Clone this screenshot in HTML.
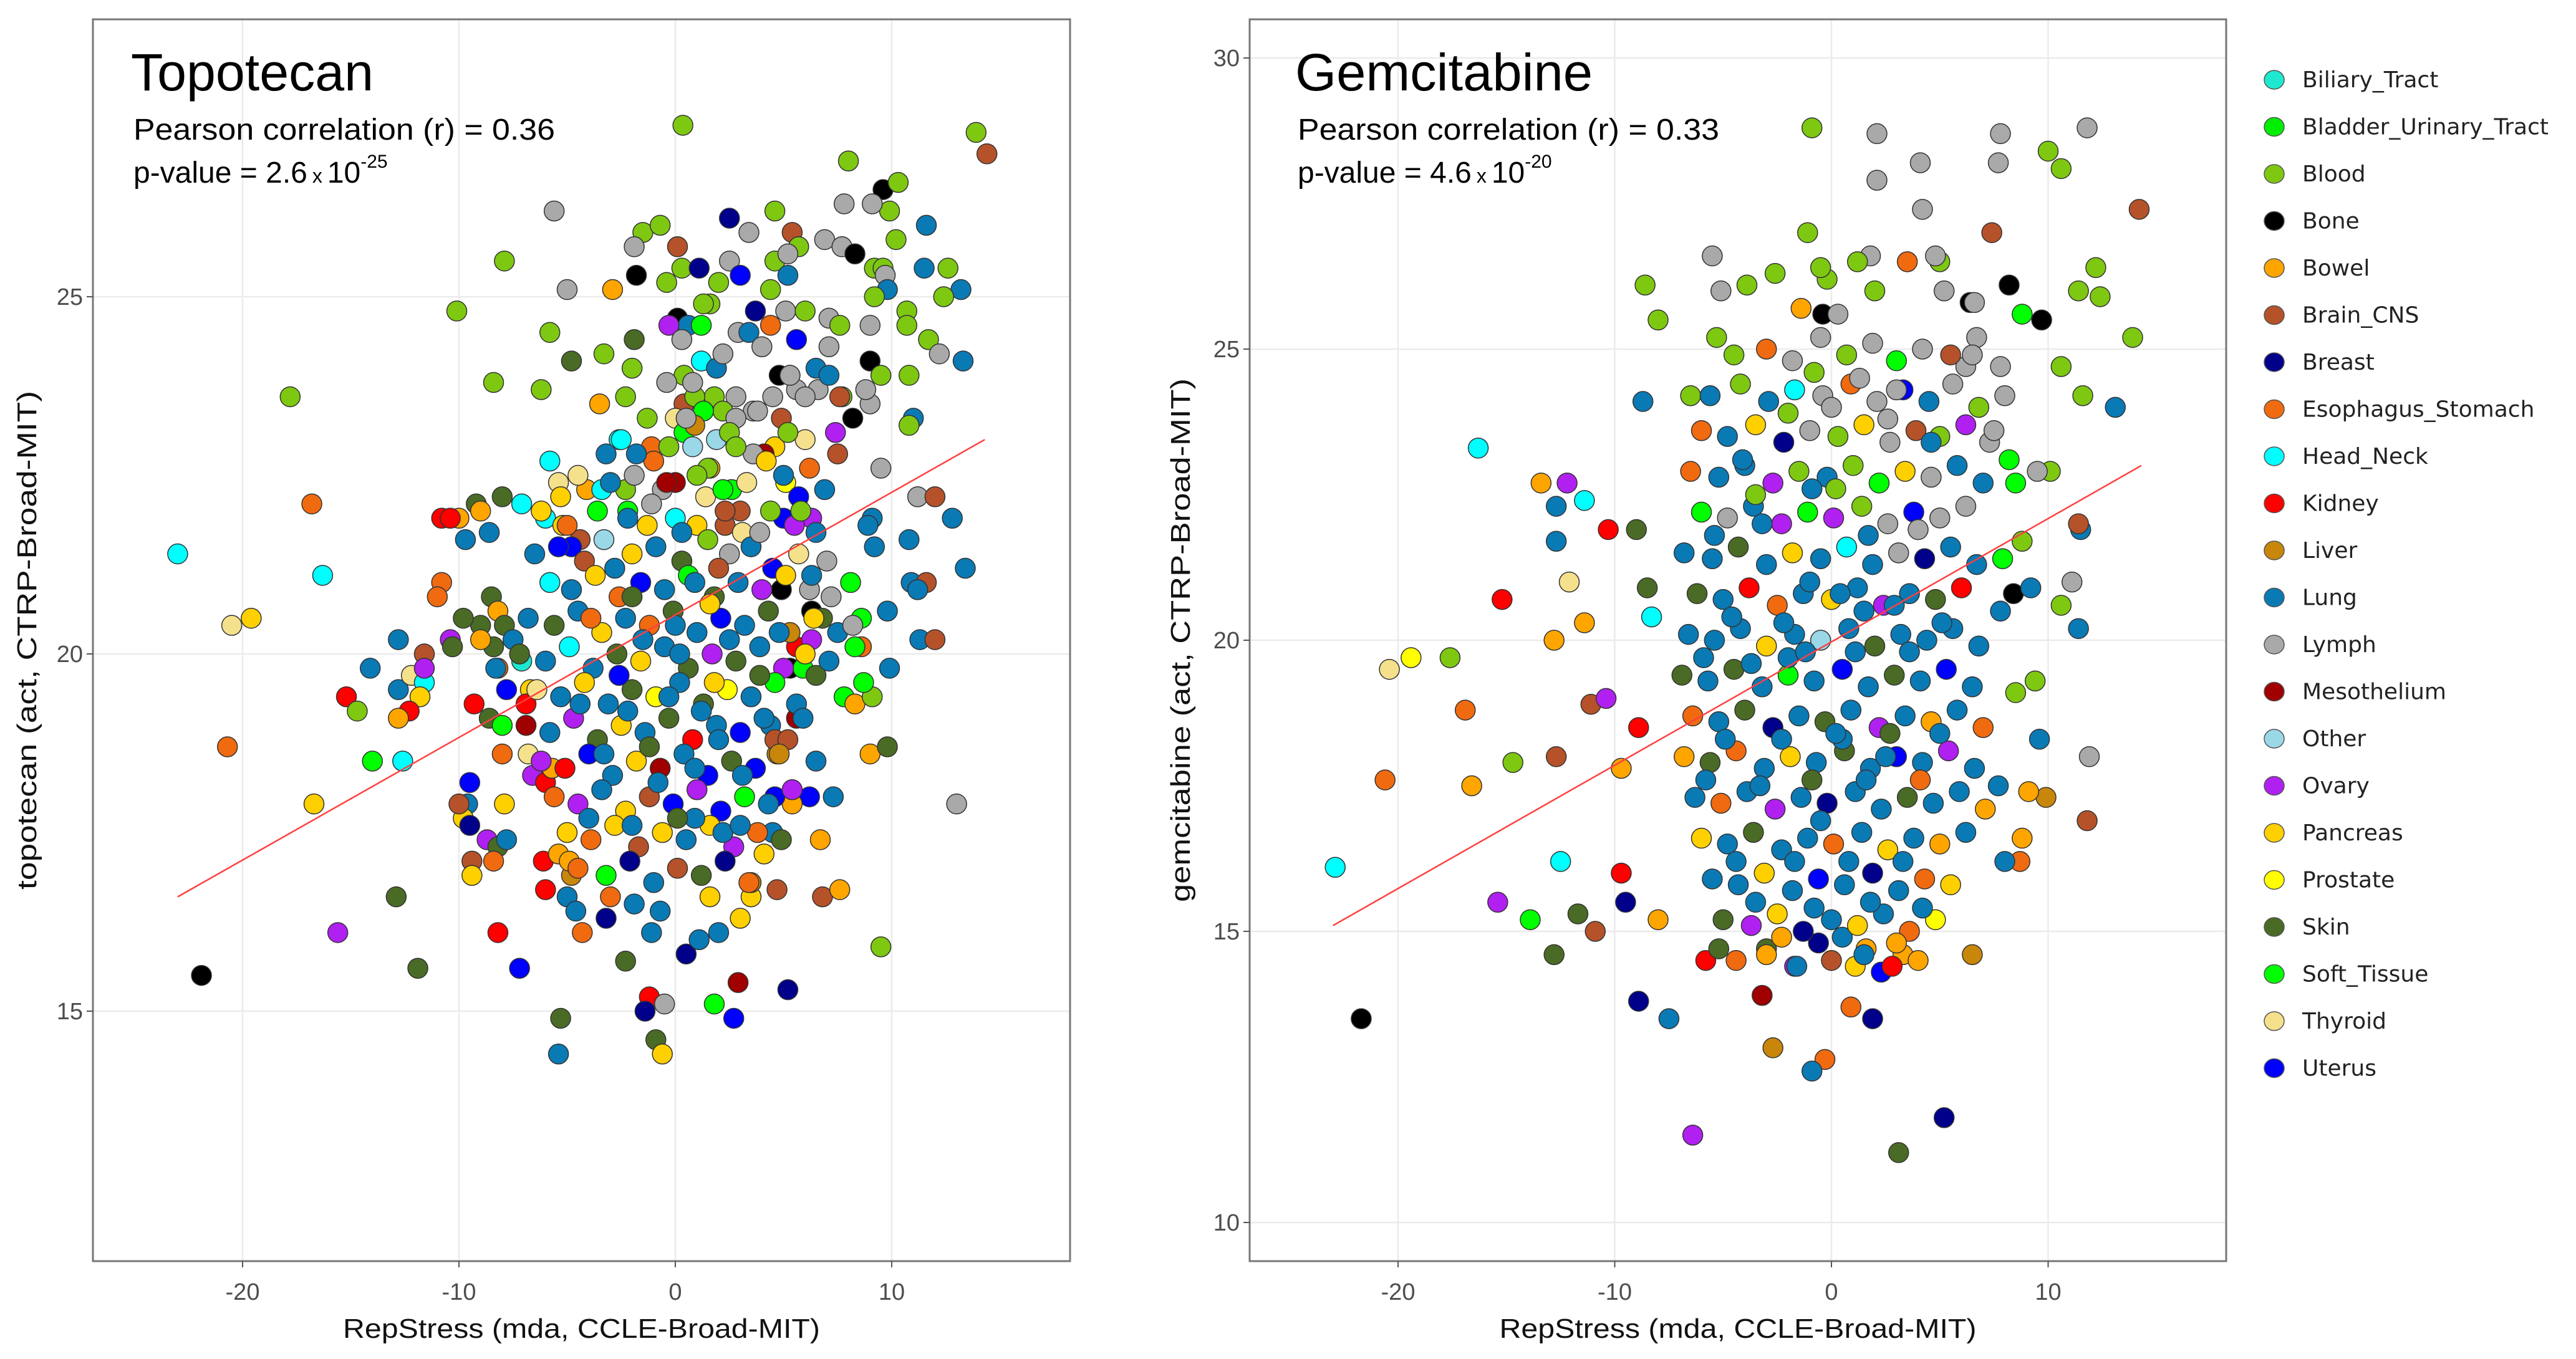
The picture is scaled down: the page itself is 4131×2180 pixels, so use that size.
<!DOCTYPE html>
<html><head><meta charset="utf-8"><style>
html,body{margin:0;padding:0;background:#fff;}
svg{display:block;}
text{font-family:"Liberation Sans",sans-serif;}
</style></head><body>
<svg id="chart" width="4131" height="2180" viewBox="0 0 4131 2180" xmlns="http://www.w3.org/2000/svg">
<rect width="4131" height="2180" fill="#fff"/>
<g id="left"></g>
<g id="right"></g>
<g id="legend"></g>
</svg>
<script>
const categories=["Biliary_Tract","Bladder_Urinary_Tract","Blood","Bone","Bowel","Brain_CNS","Breast","Esophagus_Stomach","Head_Neck","Kidney","Liver","Lung","Lymph","Mesothelium","Other","Ovary","Pancreas","Prostate","Skin","Soft_Tissue","Thyroid","Uterus"];
const catColors=["#1de9d0","#00ee00","#7ec812","#000000","#ffa500","#b5522a","#00008b","#f06a10","#00ffff","#ff0000","#c8860a","#0a7ab5","#a9a9a9","#a00000","#9ad8e8","#b020f0","#ffd000","#ffff00","#4a6b25","#00ff00","#f5e08c","#0000ff"];
const leftXTicks=[-20,-10,0,10];
const leftYTicks=[15,20,25];
const rightXTicks=[-20,-10,0,10];
const rightYTicks=[10,15,20,25,30];
const leftFitX=[-23,14.3];
const leftFitY=[16.6,23.0];
const rightFitX=[-23,14.3];
const rightFitY=[15.1,23.0];
const leftPoints=[
[-23,21.4,8],[-20.5,20.4,20],[-19.6,20.5,16],[-17.8,23.6,2],[-16.8,22.1,7],[-16.3,21.1,8],[-20.7,18.7,7],[-16.7,17.9,16],[-21.9,15.5,3],[-15.6,16.1,15],
[-15.2,19.4,9],[-14.7,19.2,2],[-14.0,18.5,19],[-12.6,18.5,8],[-12.8,19.5,11],[-12.2,19.7,20],[-11.6,19.6,8],[-11.8,19.4,16],[-12.3,19.2,9],[-12.8,19.1,4],
[-12.9,16.6,18],[-11.9,15.6,18],[-11.6,20.0,5],[-10.8,21.0,7],[-10.8,21.9,9],[-10.0,21.9,4],[-9.7,21.6,11],[-9.2,22.1,18],[-12.8,20.2,11],[-10.4,20.2,15],
[-8.5,20.8,18],[-9.0,20.4,18],[-8.2,20.6,4],[-7.9,20.4,18],[-9.3,19.3,9],[-7.8,19.5,21],[-8.6,19.1,18],[-8.0,19.0,19],[-8.2,19.8,7],[-7.5,20.2,11],
[-7.1,19.9,0],[-6.7,19.5,16],[-6.9,19.3,9],[-8.0,18.6,7],[-6.8,18.6,20],[-6.6,18.3,15],[-6.0,18.2,9],[-5.7,18.4,4],[-9.5,18.2,21],[-9.6,17.9,11],
[-9.8,17.7,16],[-7.9,17.9,16],[-10.0,17.9,5],[-9.5,17.6,6],[-8.7,17.4,15],[-8.2,17.3,18],[-7.8,17.4,11],[-9.4,17.1,5],[-9.4,16.9,16],[-8.4,17.1,7],
[-6.1,17.1,9],[-6.0,16.7,9],[-5.4,17.2,4],[-4.8,16.9,10],[-4.9,17.1,4],[-5.0,16.6,11],[-4.3,16.1,7],[-4.6,16.4,11],[-8.2,16.1,9],[-7.2,15.6,21],
[-5.3,14.9,18],[-5.4,14.4,11],[-2.3,15.7,18],[-3.2,16.3,6],[-1.9,16.5,11],[-1.1,16.1,11],[0.5,15.8,6],[1.1,16.0,11],[2.0,16.1,11],[-1.2,15.2,9],
[-1.4,15.0,6],[-0.5,15.1,12],[-0.9,14.6,18],[-0.6,14.4,16],[1.8,15.1,19],[2.7,14.9,21],[2.9,15.4,13],[5.2,15.3,6],[3.0,16.3,16],[3.5,16.6,16],
[3.5,16.8,10],[4.7,16.7,5],[6.8,16.6,5],[7.6,16.7,4],[6.7,17.4,4],[9.5,15.9,2],[13.0,17.9,12],[9.0,18.6,4],[9.8,18.7,18],[7.8,19.4,19],
[8.3,19.3,4],[9.1,19.4,2],[6.5,18.5,11],[7.3,18.0,11],[6.2,18.0,21],[5.6,19.1,13],[4.4,19.0,11],[4.5,17.5,11],[5.4,17.9,4],[4.6,18.0,21],
[4.7,18.6,10],[4.6,18.8,5],[9.8,20.6,11],[8.6,20.5,19],[7.5,20.3,11],[8.2,20.4,12],[8.6,20.1,7],[8.1,21.0,19],[10.9,21.0,11],[11.6,21.0,5],
[10.8,21.6,11],[12.8,21.9,11],[9.1,21.9,11],[5.6,20.1,9],[6.3,20.2,15],[5.3,19.8,3],[5.9,19.8,19],[6.5,19.7,18],[7.1,19.9,11],[4.9,20.9,3],
[6.3,20.6,3],[6.8,20.5,18],
[0.35,27.4,2],[13.9,27.3,2],[14.4,27.0,5],[8.0,26.9,2],[9.6,26.5,3],[10.3,26.6,2],[9.9,26.2,2],[9.1,26.3,12],[7.8,26.3,12],[-5.6,26.2,12],
[2.5,26.1,6],[4.6,26.2,2],[3.4,25.9,12],[5.4,25.9,5],[11.6,26.0,11],[6.9,25.8,12],[-1.5,25.9,2],[-0.7,26.0,2],[-1.9,25.7,12],[0.1,25.7,5],
[7.7,25.7,12],[8.3,25.6,3],[10.2,25.8,2],[9.2,25.4,2],[9.6,25.4,2],[-7.9,25.5,2],[0.3,25.4,2],[1.1,25.4,6],[2.5,25.5,12],[4.6,25.5,2],
[5.7,25.7,2],[3.0,25.3,21],[-1.8,25.3,3],[-0.4,25.2,2],[5.2,25.3,11],[9.7,25.3,12],[11.5,25.4,11],[12.6,25.4,2],[13.2,25.1,11],[12.4,25.0,2],
[9.8,25.1,11],[9.2,25.0,2],[-5.0,25.1,12],[-2.9,25.1,4],[1.6,24.9,2],[2.0,25.2,2],[4.4,25.1,2],[3.7,24.8,6],[5.1,24.8,12],[4.4,24.6,7],
[5.6,24.4,21],[7.1,24.7,12],[7.6,24.6,2],[9.0,24.6,12],[10.7,24.8,2],[10.7,24.6,2],[11.7,24.4,2],[12.2,24.2,12],[13.3,24.1,11],[-10.1,24.8,2],
[-5.8,24.5,2],[0.1,24.7,3],[0.6,24.6,11],[1.2,24.6,19],[-0.3,24.6,15],[0.3,24.4,12],[2.9,24.5,12],[-1.9,24.4,18],[1.2,24.1,8],[1.9,24.0,11],
[3.4,24.5,11],[7.1,24.3,12],[9.0,24.1,3],[9.5,23.9,2],[10.8,23.9,2],[-4.8,24.1,18],[0.4,23.9,2],[0.4,23.5,5],[4.8,23.9,3],[5.3,23.9,2],
[5.6,23.7,12],[6.6,23.7,12],[6.5,24.0,11],[7.1,23.9,11],[7.7,23.6,2],[9.0,23.5,12],[1.8,23.6,2],[2.8,23.6,12],[2.2,23.4,2],[-8.4,23.8,2],
[-6.2,23.7,2],[-3.5,23.5,4],[-2.3,23.6,2],[-0.4,23.8,12],[0.9,23.6,2],[1.3,23.4,19],[4.5,23.6,12],[3.6,23.4,12],[2.8,23.3,12],[5.3,23.9,12],
[6.0,23.6,12],[7.6,23.6,5],[8.8,23.7,12],[8.2,23.3,3],[7.4,23.1,15],[7.5,22.8,5],[11.0,23.3,11],[10.8,23.2,2],[0.0,23.3,20],[0.4,23.1,19],
[0.9,23.2,10],[-2.6,23.0,8],[-3.2,22.8,11],[1.9,23.0,14],[4.9,23.3,5],[4.6,22.9,16],[4.1,22.8,13],[6.0,23.0,20],[5.2,23.1,2],[9.5,22.6,12],
[-1.1,22.9,7],[-5.4,22.4,20],[-5.3,22.2,16],[-4.1,22.3,4],[-3.4,22.3,8],[-7.1,22.1,8],[-6.0,21.9,8],[-5.2,21.8,16],[-4.4,21.6,5],[-4.8,21.5,21],
[-2.3,22.3,2],[-2.2,22.0,19],[0.0,22.4,13],[-0.6,22.3,12],[1.4,22.2,20],[2.6,22.3,19],[1.6,22.6,4],[3.0,22.0,5],[2.3,21.8,5],[5.1,22.4,17],
[5.7,22.2,21],[6.3,21.9,15],[5.0,21.9,21],[6.9,22.3,11],[6.2,22.6,7],[11.2,22.2,12],[12.0,22.2,5],[8.9,21.8,11],[13.4,21.2,11],[11.2,20.9,11],
[11.3,20.2,11],[12.0,20.2,5],[9.9,19.8,11],[8.7,19.6,19],[8.3,20.1,19],[9.2,21.5,11],[-10.4,21.9,9],[-9.0,22.0,4],[-8.0,22.2,18],[-8.6,21.7,11],
[-11.0,20.8,7],[-14.1,19.8,11],[-11.6,19.8,15],[-10.3,20.1,18],[-9.8,20.5,18],[-8.3,19.8,11],[-8.4,20.1,18],[-9.0,20.2,4],
[-2.5,23.0,8],[0.8,22.9,14],[2.5,23.1,2],[3.6,22.8,12],[-1.0,22.7,7],[1.5,22.6,2],[4.2,22.7,16],
[-4.5,22.5,20],[-3.0,22.4,11],[-1.9,22.5,12],[-0.4,22.4,13],[1.0,22.5,2],[2.2,22.3,19],[3.3,22.4,20],[5.0,22.5,11],[-5.8,22.7,8],
[-6.2,22.0,16],[-5.0,21.8,7],[-3.6,22.0,19],[-2.2,21.9,11],[-1.1,22.1,12],[0.0,21.9,8],[1.0,21.8,16],[2.3,22.0,5],[3.1,21.7,20],[4.4,22.0,2],[5.5,21.8,15],[6.5,21.7,11],
[-6.5,21.4,11],[-5.4,21.5,21],[-4.2,21.3,5],[-3.3,21.6,14],[-2.0,21.4,16],[-0.9,21.5,11],[0.3,21.3,18],[1.5,21.6,2],[2.5,21.4,12],[3.5,21.5,11],[4.5,21.2,21],[5.7,21.4,20],[7.0,21.3,12],
[-5.8,21.0,8],[-4.8,20.9,11],[-3.7,21.1,16],[-2.6,20.8,7],[-1.6,21.0,21],[-0.5,20.9,11],[0.6,21.1,19],[1.8,20.8,18],[2.9,21.0,11],[4.0,20.9,15],[5.1,21.1,16],[6.2,20.9,12],[7.2,20.8,12],
[-6.8,20.5,11],[-5.6,20.4,18],[-4.5,20.6,11],[-3.4,20.3,16],[-2.3,20.5,11],[-1.2,20.4,7],[-0.1,20.6,18],[1.0,20.3,11],[2.1,20.5,21],[3.2,20.4,11],[4.3,20.6,18],[5.3,20.3,10],[6.4,20.5,16],
[-7.2,20.0,18],[-6.0,19.9,11],[-4.9,20.1,8],[-3.8,19.8,11],[-2.7,20.0,18],[-1.6,19.9,16],[-0.5,20.1,11],[0.6,19.8,18],[1.7,20.0,15],[2.8,19.9,18],[3.9,20.1,11],[5.0,19.8,15],[6.0,20.0,16],
[-6.4,19.5,20],[-5.3,19.4,11],[-4.2,19.6,16],[-3.1,19.3,11],[-2.0,19.5,18],[-0.9,19.4,17],[0.2,19.6,11],[1.3,19.3,18],[2.4,19.5,17],[3.5,19.4,11],[4.6,19.6,19],[5.6,19.3,11],
[-6.9,19.0,13],[-5.8,18.9,11],[-4.7,19.1,15],[-3.6,18.8,18],[-2.5,19.0,16],[-1.4,18.9,11],[-0.3,19.1,18],[0.8,18.8,9],[1.9,19.0,11],[3.0,18.9,21],[4.1,19.1,11],[5.2,18.8,5],
[-6.2,18.5,15],[-5.1,18.4,9],[-4.0,18.6,21],[-2.9,18.3,11],[-1.8,18.5,16],[-0.7,18.4,13],[0.4,18.6,11],[1.5,18.3,21],[2.6,18.5,18],[3.7,18.4,21],[4.8,18.6,10],
[-5.6,18.0,7],[-4.5,17.9,15],[-3.4,18.1,11],[-2.3,17.8,16],[-1.2,18.0,5],[-0.1,17.9,21],[1.0,18.1,15],[2.1,17.8,21],[3.2,18.0,19],[4.3,17.9,11],[5.4,18.1,15],
[-5.0,17.5,16],[-3.9,17.4,7],[-2.8,17.6,16],[-1.7,17.3,5],[-0.6,17.5,16],[0.5,17.4,11],[1.6,17.6,16],[2.7,17.3,15],[3.8,17.5,7],[4.9,17.4,18],
[-4.5,17.0,7],[-3.2,16.9,19],[-2.1,17.1,6],[-1.0,16.8,11],[0.1,17.0,5],[1.2,16.9,18],[2.3,17.1,6],[3.4,16.8,7],
[-1.5,20.2,11],[0.0,20.4,11],[1.2,19.2,11],[-0.8,18.2,11],[0.9,17.7,11],[2.0,18.8,11],[-2.2,19.2,11],[0.3,21.7,11],[1.6,20.7,16],[-0.3,22.9,2],[2.8,22.9,2],[5.8,22.0,2],[3.8,23.4,12],[-1.3,23.3,2],[0.8,23.8,12],[-2.0,24.0,2],[6.0,24.8,2],[4.0,24.3,12],[2.2,24.2,12],[-3.3,24.2,2],[1.3,24.9,2],[5.2,25.6,12],
[-2.8,21.2,11],[-1.3,21.8,16],[0.9,21.0,11],[2.0,21.2,5],[3.9,21.7,12],[-3.9,20.5,7],[-2.0,20.8,18],[0.2,20.0,11],[2.5,20.2,11],[4.8,20.3,11],[-4.4,19.3,11],[-2.6,19.7,21],[-0.3,19.4,11],[1.8,19.6,16],[3.9,19.7,18],[-3.3,18.6,11],[-1.2,18.7,18],[0.9,18.4,11],[3.1,18.3,11],[-4.0,17.7,11],[-2.0,17.6,11],[0.1,17.7,18],[2.2,17.5,11],[4.1,17.2,16],[-3.0,16.6,7],[-0.7,16.4,11],[1.6,16.6,16],[3.0,17.6,11],[-1.8,22.8,11],[0.5,23.3,12],[6.3,21.1,11],[5.9,19.1,11]
];
const rightPoints=[
[-22.9,16.1,8],[-21.7,13.5,3],[-16.3,23.3,8],[-20.4,19.5,20],[-19.4,19.7,17],[-20.6,17.6,7],[-17.6,19.7,2],[-16.9,18.8,7],[-16.6,17.5,4],[-15.4,15.5,15],
[-14.7,17.9,2],[-13.9,15.2,19],[-15.2,20.7,9],[-13.4,22.7,4],[-12.2,22.7,15],[-11.4,22.4,8],[-12.7,22.3,11],[-12.7,21.7,11],[-12.1,21.0,20],[-11.4,20.3,4],
[-12.8,20.0,4],[-12.7,18.0,5],[-12.5,16.2,8],[-12.8,14.6,18],[-11.7,15.3,18],[-10.9,15.0,5],[-10.3,21.9,9],[-9.0,21.9,18],[-8.7,24.1,11],[-11.1,18.9,5],
[-10.4,19.0,15],[-9.7,17.8,4],[-8.9,18.5,9],[-9.7,16.0,9],[-9.5,15.5,6],[-8.9,13.8,6],[-8.5,20.9,18],[-8.3,20.4,8],[-8.0,15.2,4],[-7.5,13.5,11],
[-6.4,11.5,15],[-8.6,26.1,2],[-8.0,25.5,2],[-6.5,24.2,2],[-5.5,26.6,12],[-5.1,26.0,12],[-5.3,25.2,2],[-3.9,26.1,2],[-2.6,26.3,2],[-1.4,25.7,4],
[-1.1,27.0,2],[-0.9,28.8,2],[2.1,28.7,12],[2.1,27.9,12],[4.1,28.2,12],[4.2,27.4,12],[7.8,28.7,12],[7.7,28.2,12],[7.4,27.0,5],[10.0,28.4,2],
[10.6,28.1,2],[11.8,28.8,12],[14.2,27.4,5],[12.2,26.4,2],[11.4,26.0,2],[12.4,25.9,2],[13.9,25.2,2],[13.1,24.0,11],[11.6,24.2,2],[9.7,25.5,3],
[8.8,25.6,19],[8.2,26.1,3],[6.4,25.8,3],[-0.2,26.2,2],[-0.4,25.6,3],[0.3,25.6,12],[1.8,26.6,12],[1.2,26.5,2],[3.5,26.5,7],[5.0,26.5,2],
[5.2,26.0,12],[6.6,25.8,12],[10.6,24.7,2],[10.1,22.9,2],[11.5,21.9,11],[11.1,21.0,12],[11.4,20.2,11],[10.6,20.6,2],[11.4,22.0,5],[11.9,18.0,12],
[11.8,16.9,5],[9.4,19.3,2],[9.9,17.3,10],[8.8,16.6,4],[8.7,16.2,7],[6.5,14.6,10],[8.4,20.8,3],[7.9,21.4,19],[8.2,23.1,19],[6.2,24.7,12],
[3.1,11.2,18],[5.2,11.8,6],[1.9,13.5,6],[0.9,13.7,7],[-0.3,12.8,7],[-0.9,12.6,11],[-3.2,13.9,13],[-2.7,13.0,10],[3.3,14.6,4],[-5.8,14.5,9],
[-5.2,14.7,18],[-3.0,14.7,18],[-1.7,14.4,15],[-0.6,14.8,6],[1.6,14.7,4],[2.3,14.3,21],[1.1,14.4,16],[0.5,14.9,11],
[-4.5,24.9,2],[-3.0,25.0,7],[-1.8,24.8,12],[-0.5,25.2,12],[0.7,24.9,2],[1.9,25.1,12],[3.0,24.8,19],[4.2,25.0,12],[5.5,24.9,5],[6.7,25.2,12],[7.8,24.7,12],
[-5.6,24.2,11],[-4.2,24.4,2],[-2.9,24.1,11],[-1.7,24.3,8],[-0.4,24.2,12],[0.9,24.4,7],[2.1,24.1,12],[3.3,24.3,21],[4.5,24.1,11],[5.6,24.4,12],[6.8,24.0,2],[8.0,24.2,12],
[-6.0,23.6,7],[-4.8,23.5,11],[-3.5,23.7,16],[-2.2,23.4,6],[-1.0,23.6,12],[0.3,23.5,2],[1.5,23.7,16],[2.7,23.4,12],[3.9,23.6,5],[5.0,23.5,2],[6.2,23.7,15],[7.3,23.4,12],
[-6.5,22.9,7],[-5.2,22.8,11],[-4.0,23.0,11],[-2.7,22.7,15],[-1.5,22.9,2],[-0.2,22.8,11],[1.0,23.0,2],[2.2,22.7,19],[3.4,22.9,16],[4.6,22.8,12],[5.8,23.0,11],[7.0,22.7,11],
[-6.0,22.2,19],[-4.8,22.1,12],[-3.6,22.3,11],[-2.3,22.0,15],[-1.1,22.2,19],[0.1,22.1,15],[1.4,22.3,2],[2.6,22.0,12],[3.8,22.2,21],[5.0,22.1,12],[6.2,22.3,12],
[-6.8,21.5,11],[-5.5,21.4,11],[-4.3,21.6,18],[-3.0,21.3,11],[-1.8,21.5,16],[-0.5,21.4,11],[0.7,21.6,8],[1.9,21.3,11],[3.1,21.5,12],[4.3,21.4,6],[5.5,21.6,11],[6.7,21.3,11],
[-6.2,20.8,18],[-5.0,20.7,11],[-3.8,20.9,9],[-2.5,20.6,7],[-1.3,20.8,11],[0.0,20.7,16],[1.2,20.9,11],[2.4,20.6,15],[3.6,20.8,11],[4.8,20.7,18],[6.0,20.9,9],
[-6.6,20.1,11],[-5.4,20.0,11],[-4.2,20.2,11],[-3.0,19.9,16],[-1.7,20.1,11],[-0.5,20.0,14],[0.8,20.2,11],[2.0,19.9,18],[3.2,20.1,11],[4.4,20.0,11],[5.6,20.2,11],[6.8,19.9,11],
[-6.9,19.4,18],[-5.7,19.3,11],[-4.5,19.5,18],[-3.2,19.2,11],[-2.0,19.4,19],[-0.8,19.3,11],[0.5,19.5,21],[1.7,19.2,11],[2.9,19.4,18],[4.1,19.3,11],[5.3,19.5,21],[6.5,19.2,11],
[-6.4,18.7,7],[-5.2,18.6,11],[-4.0,18.8,18],[-2.7,18.5,6],[-1.5,18.7,11],[-0.3,18.6,18],[0.9,18.8,11],[2.2,18.5,15],[3.4,18.7,11],[4.6,18.6,4],[5.8,18.8,11],[7.0,18.5,7],
[-6.8,18.0,4],[-5.6,17.9,18],[-4.4,18.1,7],[-3.1,17.8,11],[-1.9,18.0,16],[-0.7,17.9,11],[0.6,18.1,18],[1.8,17.8,11],[3.0,18.0,21],[4.2,17.9,11],[5.4,18.1,15],[6.6,17.8,11],
[-6.3,17.3,11],[-5.1,17.2,7],[-3.9,17.4,11],[-2.6,17.1,15],[-1.4,17.3,11],[-0.2,17.2,6],[1.1,17.4,11],[2.3,17.1,11],[3.5,17.3,18],[4.7,17.2,11],[5.9,17.4,11],[7.1,17.1,4],
[-6.0,16.6,16],[-4.8,16.5,11],[-3.6,16.7,18],[-2.3,16.4,11],[-1.1,16.6,11],[0.1,16.5,7],[1.4,16.7,11],[2.6,16.4,16],[3.8,16.6,11],[5.0,16.5,4],[6.2,16.7,11],
[-5.5,15.9,11],[-4.3,15.8,11],[-3.1,16.0,16],[-1.8,15.7,11],[-0.6,15.9,21],[0.6,15.8,11],[1.9,16.0,6],[3.1,15.7,11],[4.3,15.9,7],[5.5,15.8,16],
[-5.0,15.2,18],[-3.7,15.1,15],[-2.5,15.3,16],[-1.3,15.0,6],[0.0,15.2,11],[1.2,15.1,16],[2.4,15.3,11],[3.6,15.0,7],[4.8,15.2,17],
[-4.4,14.5,7],[-3.0,14.6,4],[-1.6,14.4,11],[0.0,14.5,5],[1.5,14.6,11],[2.8,14.4,9],[4.0,14.5,4],
[-1,21,11],[0.5,18.3,11],[-0.5,16.9,11],[1.5,20.5,11],[-2,19.7,11],[2.5,18.0,11],[0.2,22.6,2],[-0.8,24.6,2],[1.3,24.5,12],[3.0,24.3,12],[-3.5,22.5,2],[2.0,26.0,2],[-0.5,26.4,2],[4.8,26.6,12],[6.5,24.9,12],[7.5,23.6,12],[8.5,22.7,19],[9.5,22.9,12],[8.8,21.7,2],[9.2,20.9,11],[7.8,20.5,11],[8.5,19.1,2],[9.6,18.3,11],[7.7,17.5,11],[9.1,17.4,4],[8.0,16.2,11],
[-4.1,23.1,11],[-2.0,23.9,2],[0.0,24.0,12],[2.6,23.8,12],[4.6,23.4,11],[-5.4,21.8,11],[-3.2,22.0,11],[-0.9,22.6,11],[1.7,21.8,11],[4.0,21.9,12],[-4.6,20.4,11],[-2.2,20.3,11],[0.4,20.8,11],[2.9,20.6,11],[5.1,20.3,11],[-5.9,19.7,11],[-3.7,19.6,11],[-1.2,19.8,11],[1.1,19.8,11],[3.6,19.8,11],[-4.9,18.3,11],[-2.3,18.3,11],[0.2,18.4,11],[2.7,18.4,18],[5.0,18.4,11],[-5.8,17.6,11],[-3.3,17.5,11],[-0.9,17.6,18],[1.6,17.6,11],[4.1,17.6,7],[-4.4,16.2,11],[-1.7,16.2,11],[0.8,16.2,11],[3.3,16.2,11],[-3.5,15.5,11],[-0.8,15.4,11],[1.8,15.5,11],[4.2,15.4,11],[-2.3,14.9,4],[3.0,14.8,4]
];
const NS="http://www.w3.org/2000/svg";
function mk(tag,attrs,parent){const e=document.createElementNS(NS,tag);for(const k in attrs)e.setAttribute(k,attrs[k]);parent.appendChild(e);return e;}

function panel(g,cfg){
  const sx=v=>cfg.x0v+cfg.kx*v, sy=v=>cfg.y0v-cfg.ky*(v-cfg.yref);
  cfg.xt.forEach(t=>{const l=mk('line',{x1:sx(t),x2:sx(t),y1:cfg.top,y2:cfg.bot,stroke:'#ebebeb','stroke-width':2.5},g);
    
    });
  cfg.yt.forEach(t=>{const l=mk('line',{x1:cfg.left,x2:cfg.right,y1:sy(t),y2:sy(t),stroke:'#ebebeb','stroke-width':2.5},g);
    
    });
  cfg.pts.forEach(p=>{const c=mk('circle',{cx:sx(p[0]),cy:sy(p[1]),r:16,fill:catColors[p[2]],stroke:'#333','stroke-width':1.5},g);
    
    });
  const fl=mk('line',{x1:sx(cfg.fx[0]),y1:sy(cfg.fy[0]),x2:sx(cfg.fx[1]),y2:sy(cfg.fy[1]),stroke:'#ff4040','stroke-width':2.5},g);
  
  
  const b=mk('rect',{x:cfg.left,y:cfg.top,width:cfg.right-cfg.left,height:cfg.bot-cfg.top,fill:'none',stroke:'#777','stroke-width':3},g);
  
  
  cfg.xt.forEach(t=>{mk('line',{x1:sx(t),x2:sx(t),y1:cfg.bot,y2:cfg.bot+10,stroke:'#555','stroke-width':2},g);
    const tx=mk('text',{x:sx(t),y:2085,'text-anchor':'middle','font-size':38,fill:'#4d4d4d'},g);tx.textContent=t;
    
    });
  cfg.yt.forEach(t=>{mk('line',{x1:cfg.left-10,x2:cfg.left,y1:sy(t),y2:sy(t),stroke:'#555','stroke-width':2},g);
    const tx=mk('text',{x:cfg.left-16,y:sy(t)+13,'text-anchor':'end','font-size':38,fill:'#4d4d4d'},g);tx.textContent=t;
    
    });
  const xa=mk('text',{x:(cfg.left+cfg.right)/2,y:2146,'text-anchor':'middle','font-size':44,fill:'#111',textLength:765,lengthAdjust:'spacingAndGlyphs'},g);
  xa.textContent='RepStress (mda, CCLE-Broad-MIT)';
  
  
  const ya=mk('text',{x:0,y:0,'text-anchor':'middle','font-size':44,fill:'#111',transform:`translate(${cfg.ytx},${(cfg.top+cfg.bot)/2}) rotate(-90)`,textLength:cfg.ytLen,lengthAdjust:'spacingAndGlyphs'},g);
  ya.textContent=cfg.ytitle;
  
  
  const ti=mk('text',{x:cfg.tx,y:145,'font-size':84,fill:'#000',textLength:cfg.tLen,lengthAdjust:'spacingAndGlyphs'},g);
  ti.textContent=cfg.title;
  
  
  const r=mk('text',{x:cfg.tx+4,y:224,'font-size':48,fill:'#000',textLength:676,lengthAdjust:'spacingAndGlyphs'},g);
  r.textContent=cfg.rtext;
  
  
  const pv=mk('text',{x:cfg.tx+4,y:293,'font-size':48,fill:'#000'},g);
  
  
  pv.innerHTML=`<tspan>p-value = ${cfg.pm}</tspan><tspan font-size="32" dx="8">x</tspan><tspan dx="8" font-size="48">10</tspan><tspan font-size="30" dy="-24">${cfg.pe}</tspan>`;
}
panel(document.getElementById('left'),{left:149,right:1716,top:31,bot:2023,x0v:1083,kx:34.7,y0v:1049,ky:114.6,yref:20,xt:leftXTicks,yt:leftYTicks,pts:leftPoints,fx:leftFitX,fy:leftFitY,ytx:58,ytLen:800,ytitle:'topotecan (act, CTRP-Broad-MIT)',tx:210,title:'Topotecan',tLen:389,rtext:'Pearson correlation (r) = 0.36',pm:'2.6',pe:'-25'});
panel(document.getElementById('right'),{left:2004,right:3570,top:31,bot:2023,x0v:2937,kx:34.75,y0v:1961,ky:93.4,yref:10,xt:rightXTicks,yt:rightYTicks,pts:rightPoints,fx:rightFitX,fy:rightFitY,ytx:1908,ytLen:840,ytitle:'gemcitabine (act, CTRP-Broad-MIT)',tx:2077,title:'Gemcitabine',tLen:477,rtext:'Pearson correlation (r) = 0.33',pm:'4.6',pe:'-20'});
const lg=document.getElementById('legend');
categories.forEach((c,i)=>{
  const y=128+i*75.5;
  const e=mk('g',{},lg);
  
  
  mk('ellipse',{cx:3647,cy:y,rx:16,ry:15,fill:catColors[i],stroke:'#555','stroke-width':1.5},e);
  const t=mk('text',{x:3692,y:y+12,'font-size':36,fill:'#222',style:'font-family:"DejaVu Sans",sans-serif'},e);
  t.textContent=c;
});
</script>
</body></html>
